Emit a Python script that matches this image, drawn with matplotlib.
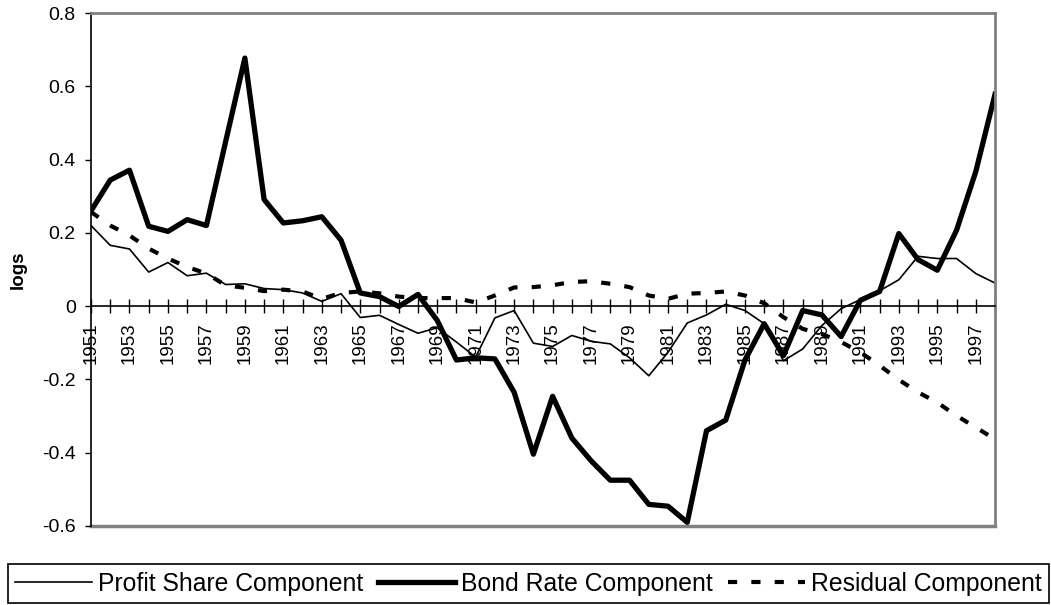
import numpy as np
import matplotlib.pyplot as plt

plt.rcParams['font.family'] = ['Liberation Sans', 'DejaVu Sans']

# dane (1951-1998)
years = list(range(1951, 1999))

profit_share = [0.22, 0.166, 0.156, 0.093, 0.119, 0.083, 0.09, 0.059, 0.061, 0.048,
                0.045, 0.036, 0.013, 0.034, -0.031, -0.025, -0.05, -0.074, -0.059, -0.098,
                -0.139, -0.032, -0.012, -0.101, -0.11, -0.08, -0.096, -0.103, -0.141, -0.19,
                -0.126, -0.046, -0.024, 0.005, -0.012, -0.048, -0.149, -0.117, -0.053, -0.007,
                0.018, 0.042, 0.072, 0.136, 0.13, 0.13, 0.089, 0.063]

bond_rate = [0.26, 0.344, 0.371, 0.218, 0.204, 0.236, 0.22, 0.449, 0.677, 0.291,
             0.227, 0.233, 0.244, 0.18, 0.036, 0.026, -0.001, 0.032, -0.039, -0.147,
             -0.141, -0.144, -0.235, -0.404, -0.246, -0.36, -0.422, -0.475, -0.475, -0.541,
             -0.546, -0.59, -0.34, -0.311, -0.147, -0.048, -0.135, -0.012, -0.024, -0.083,
             0.016, 0.04, 0.198, 0.127, 0.098, 0.207, 0.367, 0.578]

residual = [0.257, 0.22, 0.193, 0.157, 0.13, 0.107, 0.089, 0.057, 0.05, 0.041,
            0.045, 0.04, 0.02, 0.036, 0.04, 0.035, 0.026, 0.022, 0.022, 0.022,
            0.01, 0.029, 0.051, 0.052, 0.057, 0.066, 0.068, 0.061, 0.052, 0.029,
            0.02, 0.034, 0.036, 0.04, 0.029, 0.008, -0.03, -0.062, -0.076, -0.098,
            -0.126, -0.162, -0.201, -0.235, -0.263, -0.299, -0.331, -0.363]

y_ticks = [-0.6, -0.4, -0.2, 0, 0.2, 0.4, 0.6, 0.8]
y_labels = ['-0.6', '-0.4', '-0.2', '0', '0.2', '0.4', '0.6', '0.8']
x_labels = [str(y) if (y - 1951) % 2 == 0 else '' for y in years]

fig = plt.figure(figsize=(10.51, 6.05), dpi=100)
ax = fig.add_axes([91 / 1051, 1 - 526 / 605, 904 / 1051, 513 / 605])

ax.plot(years, profit_share, color='black', lw=1.2, label='Profit Share Component')
ax.plot(years, bond_rate, color='black', lw=3.8, label='Bond Rate Component')
ax.plot(years, residual, color='black', lw=3, dashes=(2.2, 3.4), label='Residual Component')

ax.set_xlim(1951, 1998)
ax.set_ylim(-0.6, 0.8)
ax.set_yticks(y_ticks)
ax.set_yticklabels(y_labels)
ax.set_xticks(years)
ax.set_xticklabels(x_labels)

ax.tick_params(axis='x', direction='inout', length=9.5, width=1, pad=7, labelsize=13.5,
               labelrotation=90)
ax.tick_params(axis='y', direction='out', length=4.5, width=1, pad=6.5, labelsize=14)

ax.spines['bottom'].set_position(('data', 0))
ax.spines['bottom'].set_linewidth(1.2)
ax.spines['left'].set_linewidth(1.2)
for s in ['top', 'right']:
    ax.spines[s].set_color('#808080')
    ax.spines[s].set_linewidth(2)
ax.axhline(-0.6, color='#808080', lw=2.5, clip_on=False, zorder=1)

ax.set_ylabel('logs', fontsize=13.5, fontweight='bold')
ax.yaxis.set_label_coords(-0.071, 0.5)

leg = fig.legend(loc='lower left', bbox_to_anchor=(8 / 1051, 2 / 605, 1041 / 1051, 40 / 605),
                 mode='expand', ncol=3, fontsize=17.8, frameon=True, fancybox=False,
                 edgecolor='black', framealpha=1, borderpad=0.3, handlelength=3.1,
                 handletextpad=0.25, borderaxespad=0, columnspacing=0.5)
leg.get_frame().set_linewidth(1.2)

fig.savefig('out.png', dpi=100)
